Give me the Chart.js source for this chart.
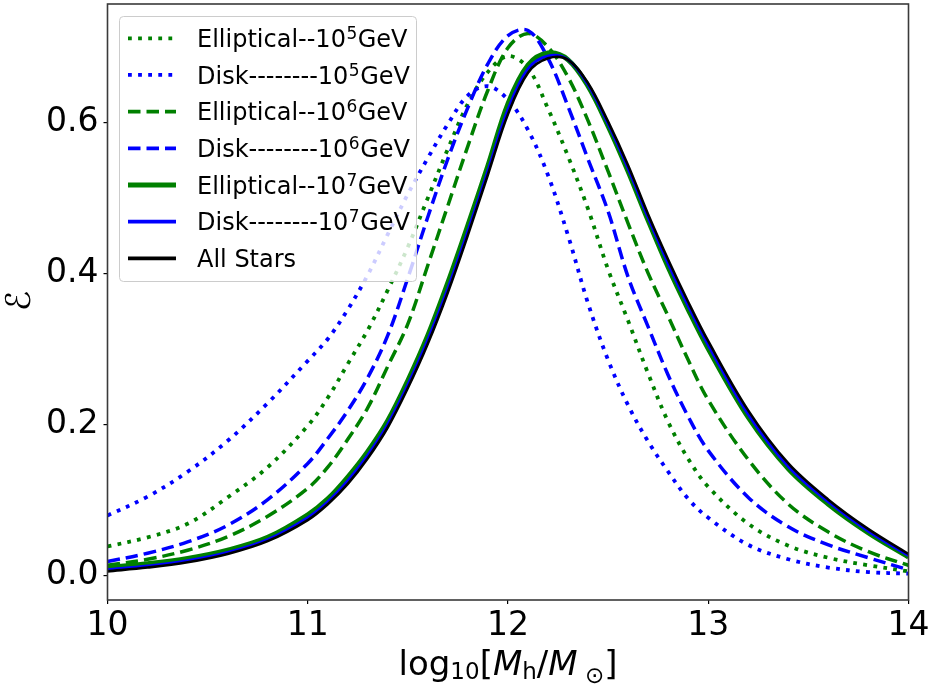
<!DOCTYPE html>
<html><head><meta charset="utf-8">
<script src="https://cdn.jsdelivr.net/npm/chart.js@4"></script>
<style>html,body{margin:0;padding:0;background:#fff}</style>
</head><body>
<canvas id="c" width="933" height="688"></canvas>
<script>
/* efficiency vs halo mass */
const XS=[10,10.2,10.4,10.6,10.8,11.0,11.1,11.2,11.3,11.4,11.5,11.6,11.7,11.8,11.9,12.0,12.1,12.2,12.3,12.4,12.5,12.6,12.7,12.8,12.9,13.0,13.2,13.4,13.6,13.8,14.0];
const ELL5=[0.038,0.050,0.068,0.103,0.143,0.198,0.235,0.280,0.325,0.378,0.435,0.500,0.565,0.625,0.667,0.688,0.672,0.618,0.555,0.485,0.405,0.337,0.267,0.203,0.154,0.117,0.068,0.039,0.023,0.013,0.005];
const DISK5=[0.079,0.104,0.137,0.178,0.228,0.284,0.313,0.352,0.398,0.452,0.505,0.553,0.598,0.636,0.648,0.630,0.590,0.530,0.450,0.360,0.285,0.225,0.177,0.137,0.101,0.076,0.040,0.021,0.010,0.004,0.002];
const ELL6=[0.013,0.021,0.033,0.051,0.078,0.115,0.143,0.180,0.222,0.277,0.333,0.411,0.490,0.569,0.643,0.699,0.718,0.700,0.660,0.602,0.535,0.466,0.400,0.343,0.285,0.232,0.153,0.094,0.057,0.031,0.013];
const DISK6=[0.018,0.029,0.044,0.066,0.100,0.148,0.181,0.218,0.262,0.318,0.394,0.475,0.552,0.620,0.678,0.715,0.722,0.685,0.621,0.551,0.482,0.395,0.329,0.265,0.210,0.165,0.103,0.064,0.040,0.023,0.007];
const ELL7=[0.010,0.015,0.022,0.033,0.050,0.080,0.101,0.130,0.164,0.205,0.258,0.318,0.388,0.464,0.543,0.625,0.676,0.692,0.683,0.648,0.595,0.535,0.470,0.408,0.352,0.300,0.209,0.141,0.094,0.056,0.024];
const DISK7=[0.007,0.012,0.019,0.030,0.047,0.076,0.097,0.125,0.159,0.200,0.252,0.312,0.380,0.456,0.536,0.617,0.671,0.688,0.683,0.650,0.598,0.539,0.474,0.413,0.357,0.305,0.213,0.144,0.097,0.058,0.026];
const ALL=[0.005,0.010,0.017,0.028,0.045,0.073,0.094,0.121,0.155,0.196,0.248,0.307,0.375,0.451,0.531,0.611,0.666,0.685,0.683,0.652,0.601,0.543,0.478,0.418,0.362,0.310,0.218,0.148,0.100,0.061,0.028];
const NAMES=['Elliptical--10⁵GeV','Disk--------10⁵GeV','Elliptical--10⁶GeV','Disk--------10⁶GeV','Elliptical--10⁷GeV','Disk--------10⁷GeV','All Stars'];
const XT=[10,11,12,13,14],YT=[0,0.2,0.4,0.6];

const F='"DejaVu Sans", sans-serif';
const DOT=[3.8,6.3],DASH=[12.5,6];
const SUP={'⁵':'5','⁶':'6','⁷':'7'};
// style per series, same order as NAMES
const ST=[
 {c:'#008000',d:DOT,w:3.8,v:ELL5},
 {c:'#0000ff',d:DOT,w:3.8,v:DISK5},
 {c:'#008000',d:DASH,w:3.5,v:ELL6},
 {c:'#0000ff',d:DASH,w:3.5,v:DISK6},
 {c:'#008000',d:[],w:5,v:ELL7},
 {c:'#0000ff',d:[],w:3,v:DISK7},
 {c:'#000000',d:[],w:2.6,v:ALL}
];
// first dataset is drawn on top in chart.js, so reverse
const ds=ST.map(function(s,i){return{label:NAMES[i],data:XS.map(function(x,j){return{x:x,y:s.v[j]}}),
 borderColor:s.c,borderWidth:s.w,borderDash:s.d,borderCapStyle:'butt',pointRadius:0,fill:false,
 tension:0.35,clip:0}}).reverse();

function tx(c,t,x,y,f){c.font=f;c.fillText(t,x,y);return x+c.measureText(t).width}
function rr(c,x,y,w,h,r){c.beginPath();c.moveTo(x+r,y);c.lineTo(x+w-r,y);c.arcTo(x+w,y,x+w,y+r,r);
 c.lineTo(x+w,y+h-r);c.arcTo(x+w,y+h,x+w-r,y+h,r);c.lineTo(x+r,y+h);c.arcTo(x,y+h,x,y+h-r,r);
 c.lineTo(x,y+r);c.arcTo(x,y,x+r,y,r);c.closePath()}
// label text with the unicode superscript drawn as a raised small digit
function lab(c,t,x,y){
 var k=t.search(/[⁵⁶⁷]/);
 if(k<0){tx(c,t,x,y,'24px '+F);return}
 x=tx(c,t.slice(0,k),x,y,'24px '+F);
 x=tx(c,SUP[t[k]],x+0.5,y-8,'17px '+F);
 tx(c,t.slice(k+1),x+0.5,y,'24px '+F);
}
const deco={id:'deco',
 afterDatasetsDraw:function(ch){
  var c=ch.ctx,a=ch.chartArea;c.save();
  c.strokeStyle='#3a3a3a';c.lineWidth=1.6;c.setLineDash([]);
  c.strokeRect(a.left,a.top,a.right-a.left,a.bottom-a.top);
  // legend box
  rr(c,119.5,16.5,297,265,4);
  c.fillStyle='rgba(255,255,255,0.8)';c.fill();c.strokeStyle='#cccccc';c.lineWidth=1;c.stroke();
  ST.forEach(function(s,i){
   var y=38.3+i*36.67;
   c.beginPath();c.strokeStyle=s.c;c.lineWidth=Math.max(s.w,3.8);c.lineCap='butt';c.setLineDash(s.d);
   c.moveTo(128,y);c.lineTo(176,y);c.stroke();
   c.setLineDash([]);c.fillStyle='#000';c.textBaseline='alphabetic';c.textAlign='left';
   lab(c,NAMES[i],197,y+8.8);
  });
  c.restore();
 },
 afterDraw:function(ch){
  var c=ch.ctx,a=ch.chartArea;c.save();c.fillStyle='#000';c.textBaseline='alphabetic';c.textAlign='left';
  var N='34px '+F,I='italic 34px '+F,S='23px '+F;
  var P=[['log',N,0],['10',S,3.5],['[',N,0],['M',I,0],['h',S,3.5],['/',N,0],['M',I,0],[' ',S,0],['⊙',S,8],[']',N,0]];
  var w=0;P.forEach(function(p){c.font=p[1];w+=c.measureText(p[0]).width});
  var x=(a.left+a.right)/2-w/2;
  P.forEach(function(p){x=tx(c,p[0],x,675+p[2],p[1])});
  c.translate(21.5,301);c.rotate(-Math.PI/2);c.textAlign='center';c.textBaseline='middle';
  c.font='34px '+F;c.fillText('ℰ',0,0);
  c.restore();
 }};
function noPad(s){s.paddingTop=0;s.paddingBottom=0;s.paddingLeft=0;s.paddingRight=0}

new Chart(document.getElementById('c'),{
 type:'line',data:{datasets:ds},plugins:[deco],
 options:{responsive:false,animation:false,devicePixelRatio:1,
  layout:{padding:{top:4,right:24.5,left:0,bottom:0}},
  plugins:{legend:{display:false},tooltip:{enabled:false}},
  scales:{
   x:{type:'linear',min:10,max:14,
    afterBuildTicks:function(s){s.ticks=XT.map(function(v){return{value:v}})},
    afterFit:function(s){s.height=88;noPad(s)},
    grid:{display:true,drawOnChartArea:false,drawTicks:true,tickLength:4,color:'#000',lineWidth:1.2},
    border:{display:false},
    ticks:{color:'#000',padding:3,maxRotation:0,font:{family:'DejaVu Sans',size:33},callback:function(v){return String(v)}}},
   y:{type:'linear',min:-0.033,max:0.757,
    afterBuildTicks:function(s){s.ticks=YT.map(function(v){return{value:v}})},
    afterFit:function(s){s.width=107.5;noPad(s)},
    grid:{display:true,drawOnChartArea:false,drawTicks:true,tickLength:4,color:'#000',lineWidth:1.2},
    border:{display:false},
    ticks:{color:'#000',padding:5,font:{family:'DejaVu Sans',size:33},callback:function(v){return v.toFixed(1)}}}
  }}
});
</script>
</body></html>
